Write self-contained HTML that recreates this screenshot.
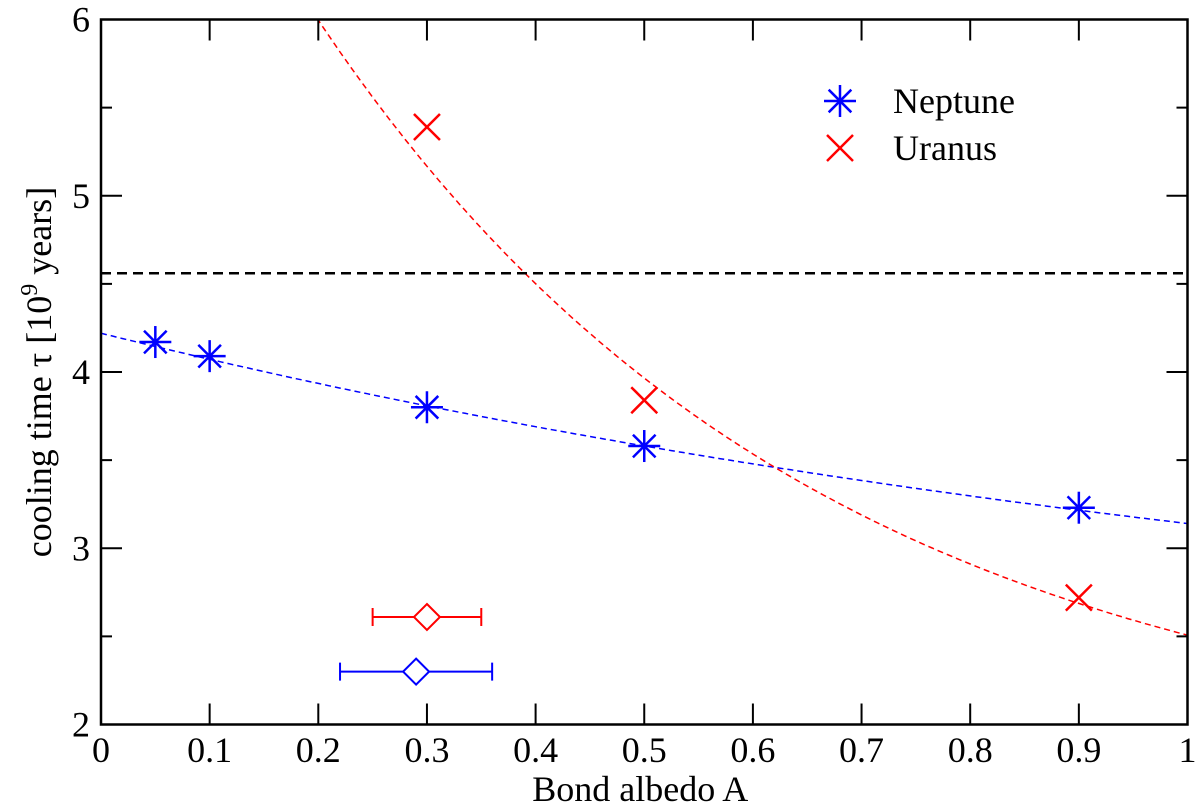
<!DOCTYPE html>
<html><head><meta charset="utf-8"><style>
html,body{margin:0;padding:0;background:#fff;}
svg text{font-family:"Liberation Serif",serif;fill:#000;}
</style></head><body>
<svg id="chart" width="1200" height="807" viewBox="0 0 1200 807">
<g id="grid"></g>
<g id="marks"></g>
</svg>
<script>
const neptuneX=[0.05,0.1,0.3,0.5,0.9];
const neptuneY=[4.17,4.09,3.80,3.58,3.23];
const uranusX=[0.3,0.5,0.9];
const uranusY=[5.39,3.84,2.72];
const obsUranus=[0.3,2.61,0.25,0.35];
const obsNeptune=[0.29,2.30,0.22,0.36];
const solarAge=4.56;
const xTicks=[0,0.1,0.2,0.3,0.4,0.5,0.6,0.7,0.8,0.9,1];
const xTickLabels=["0","0.1","0.2","0.3","0.4","0.5","0.6","0.7","0.8","0.9","1"];
const yTicks=[2,3,4,5,6];
const yTickLabels=["2","3","4","5","6"];
const L=101,R=1187.5,T=19.5,B=724.5;
const sx=v=>L+(R-L)*v;
const sy=v=>B-(B-T)*(v-2)/4;
const NS="http://www.w3.org/2000/svg";
const svg=document.getElementById('chart');
const g=document.getElementById('marks');
function mk(t,a,p){const e=document.createElementNS(NS,t);for(const k in a)e.setAttribute(k,a[k]);(p||g).appendChild(e);return e;}
const defs=mk('defs',{},svg);const cp=mk('clipPath',{id:'clip'},defs);mk('rect',{x:L,y:T,width:R-L,height:B-T},cp);
function path(f,color,name){let d="";for(let i=0;i<=200;i++){const x=i/200;d+=(i?"L":"M")+sx(x).toFixed(1)+","+sy(f(x)).toFixed(1);}
 const p=mk('path',{d:d,fill:'none',stroke:color,'stroke-width':1.5,'stroke-dasharray':'6,4','clip-path':'url(#clip)'});
 }
path(x=>2.172+2.048*Math.exp(-0.749*x),'#0000ff','neptune-fit-line');
path(x=>1.77+6.54*Math.exp(-2.183*x),'#ff0000','uranus-fit-line');
const hl=mk('line',{x1:L,x2:R,y1:sy(solarAge),y2:sy(solarAge),stroke:'#000','stroke-width':2.5,'stroke-dasharray':'10,6'});

function star(cx,cy,r,c,name){const gg=mk('g',{stroke:c,'stroke-width':2.5});
 for(let a=0;a<4;a++){const t=a*Math.PI/4+Math.PI/2;mk('line',{x1:cx-r*Math.cos(t),y1:cy-r*Math.sin(t),x2:cx+r*Math.cos(t),y2:cy+r*Math.sin(t)},gg);}}
function cross(cx,cy,r,c,name){const gg=mk('g',{stroke:c,'stroke-width':2.5});
 mk('line',{x1:cx-r,y1:cy-r,x2:cx+r,y2:cy+r},gg);mk('line',{x1:cx-r,y1:cy+r,x2:cx+r,y2:cy-r},gg);}
neptuneX.forEach((x,i)=>star(sx(x),sy(neptuneY[i]),16,'#0000ff','neptune-point'));
uranusX.forEach((x,i)=>cross(sx(x),sy(uranusY[i]),13,'#ff0000','uranus-point'));
function obs(o,c,name){const gg=mk('g',{stroke:c,'stroke-width':2,fill:'none'});
 const cx=sx(o[0]),cy=sy(o[1]);mk('line',{x1:sx(o[2]),x2:sx(o[3]),y1:cy,y2:cy},gg);
 mk('line',{x1:sx(o[2]),x2:sx(o[2]),y1:cy-9,y2:cy+9},gg);mk('line',{x1:sx(o[3]),x2:sx(o[3]),y1:cy-9,y2:cy+9},gg);
 mk('polygon',{points:`${cx},${cy-13} ${cx+13},${cy} ${cx},${cy+13} ${cx-13},${cy}`,fill:'#fff'},gg);}
obs(obsUranus,'#ff0000','uranus-observed-marker');
obs(obsNeptune,'#0000ff','neptune-observed-marker');
const fr=mk('rect',{x:L,y:T,width:R-L,height:B-T,fill:'none',stroke:'#000','stroke-width':2.5});

xTicks.forEach((v,i)=>{const x=sx(v);mk('line',{x1:x,x2:x,y1:B,y2:B-21,stroke:'#000','stroke-width':2});mk('line',{x1:x,x2:x,y1:T,y2:T+21,stroke:'#000','stroke-width':2});
 const t=mk('text',{x:x,y:762,'text-anchor':'middle','font-size':36});t.textContent=xTickLabels[i];});
yTicks.forEach((v,i)=>{const y=sy(v);mk('line',{x1:L,x2:L+21,y1:y,y2:y,stroke:'#000','stroke-width':2});mk('line',{x1:R,x2:R-21,y1:y,y2:y,stroke:'#000','stroke-width':2});
 if(v<6){const ym=sy(v+0.5);mk('line',{x1:L,x2:L+11,y1:ym,y2:ym,stroke:'#000','stroke-width':2});mk('line',{x1:R,x2:R-11,y1:ym,y2:ym,stroke:'#000','stroke-width':2});}
 const t=mk('text',{x:L-11,y:y+12,'text-anchor':'end','font-size':36});t.textContent=yTickLabels[i];});
const xl=mk('text',{x:(L+R)/2-4,y:801,'text-anchor':'middle','font-size':36});xl.textContent='Bond albedo A';

const yl=mk('text',{x:0,y:0,'text-anchor':'middle','font-size':36,transform:`translate(51,${(T+B)/2}) rotate(-90)`});
yl.innerHTML='cooling time τ [10<tspan dy="-14" font-size="24">9</tspan><tspan dy="14"> years]</tspan>';

star(840,101,16,'#0000ff','legend-neptune-marker');
cross(840,148,13,'#ff0000','legend-uranus-marker');
const l1=mk('text',{x:893,y:113,'font-size':36});l1.textContent='Neptune';
const l2=mk('text',{x:893,y:160,'font-size':36});l2.textContent='Uranus';
</script>
</body></html>
